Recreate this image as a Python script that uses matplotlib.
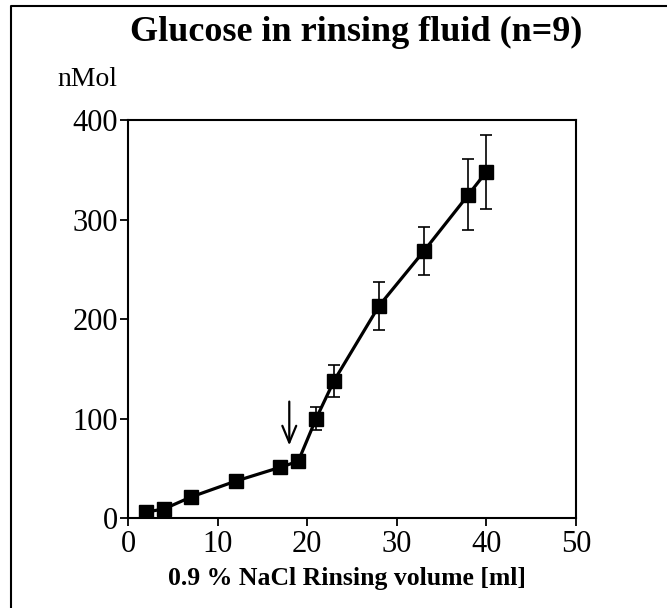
import matplotlib
matplotlib.use("Agg")
import matplotlib.pyplot as plt
from matplotlib.lines import Line2D

volume = [2, 4, 7, 12, 17, 19, 21, 23, 28, 33, 38, 40]
glucose = [6, 9, 21, 37, 51, 57, 100, 138, 213, 268, 325, 348]
error = [0, 0, 0, 0, 0, 0, 12, 16, 24, 24, 36, 37]
arrow_x = 18
arrow_from = 117
arrow_to = 73

xticks = [0, 10, 20, 30, 40, 50]
yticks = [0, 100, 200, 300, 400]

plt.rcParams['font.family'] = ['Liberation Serif', 'DejaVu Serif']

fig = plt.figure(figsize=(6.67, 6.08), dpi=100)
ax = fig.add_axes([128/667, 1-518/608, (576-128)/667, (518-120)/608])

ax.errorbar(volume, glucose, yerr=error, fmt='none', ecolor='black',
            elinewidth=1.2, capsize=4, capthick=1.2, zorder=2)
ax.plot(volume, glucose, color='black', lw=2.3, marker='s', ms=10.5,
        mfc='black', mec='black', zorder=3)

ax.annotate('', xy=(arrow_x, arrow_to), xytext=(arrow_x, arrow_from),
            arrowprops=dict(arrowstyle='->, head_length=0.6, head_width=0.25',
                            lw=1.6, color='black',
                            mutation_scale=20, shrinkA=0, shrinkB=0))

ax.set_xlim(0, 50)
ax.set_ylim(0, 400)
ax.set_xticks(xticks)
ax.set_yticks(yticks)
ax.tick_params(axis='both', direction='out', length=6, width=1.3,
               labelsize=22, colors='black')
ax.tick_params(axis='x', pad=3)
ax.tick_params(axis='y', pad=1)
for s in ax.spines.values():
    s.set_linewidth(1.5)
    s.set_color('black')

ax.set_xlabel('0.9 % NaCl Rinsing volume [ml]', fontsize=18.5,
              fontweight='bold', labelpad=10)
ax.xaxis.set_label_coords(347/667, 1-579/608, transform=fig.transFigure)
ax.xaxis.label.set_va('center')
fig.text(356/667, 1-32/608, 'Glucose in rinsing fluid (n=9)', fontsize=26,
         fontweight='bold', ha='center', va='center')
fig.text(57/667, 1-80/608, 'nMol', fontsize=20, ha='left', va='center')

fig.add_artist(Line2D([11/667, 11/667, 1.0], [0.0, 1-6/608, 1-6/608],
                      transform=fig.transFigure, color='black', lw=1.5))

fig.savefig('out.png', dpi=100)
